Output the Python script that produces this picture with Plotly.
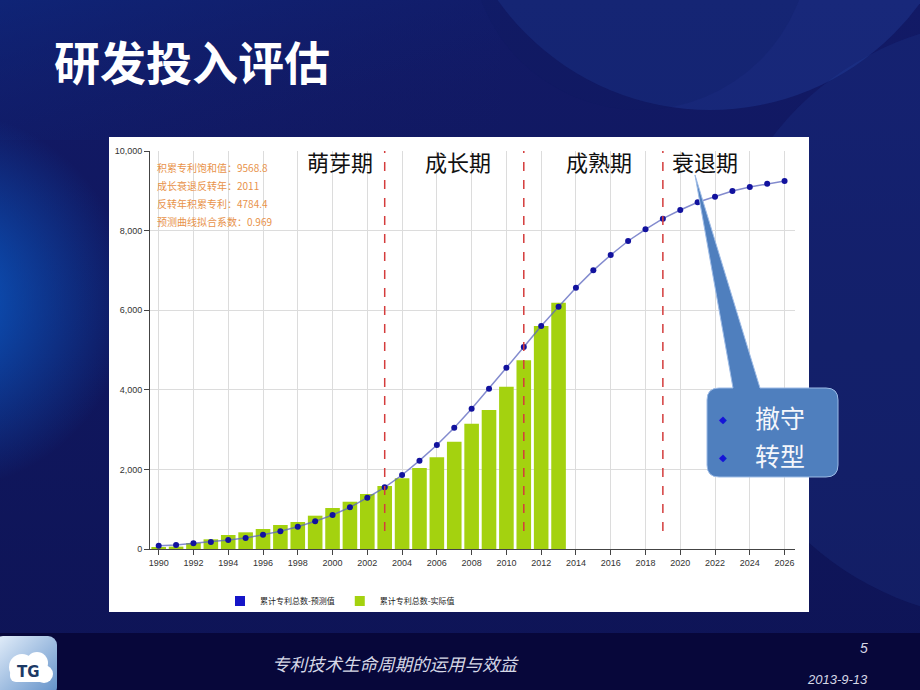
import base64
import plotly.graph_objects as go

W, H = 920, 690

# 累计专利总数 - 预测值 (1990-2026)
forecast_years = list(range(1990, 2027))
forecast_vals = [80, 100, 143, 176, 226, 276, 360, 444, 561, 695, 854, 1047,
                 1290, 1550, 1859, 2219, 2613, 3048, 3525, 4028, 4555, 5075,
                 5603, 6088, 6565, 7001, 7387, 7739, 8032, 8299, 8518, 8711,
                 8852, 8995, 9095, 9178, 9246]

# 累计专利总数 - 实际值 (1990-2013)
actual_years = list(range(1990, 2014))
actual_vals = [40, 60, 150, 243, 352, 419, 502, 603, 678, 837, 1030, 1188,
               1382, 1583, 1776, 2035, 2304, 2696, 3148, 3492, 4078, 4741,
               5603, 6188]

phase_bounds = [2003, 2011, 2019]
phase_names = ["萌芽期", "成长期", "成熟期", "衰退期"]
phase_label_x = [2000.4, 2007.2, 2015.3, 2021.4]

stats_lines = ["积累专利饱和值：9568.8", "成长衰退反转年：2011",
               "反转年积累专利：4784.4", "预测曲线拟合系数：0.969"]

x_ticks = list(range(1990, 2027, 2))
callout_items = ["撤守", "转型"]

CJK = "Noto Sans CJK SC"


def px(x):
    return x / W


def py(y):
    return 1 - y / H


# slide background drawn as an svg picture
bg_svg = """<svg xmlns="http://www.w3.org/2000/svg" width="920" height="690">
<defs>
<linearGradient id="g" x1="0" y1="0" x2="0" y2="1">
<stop offset="0" stop-color="#121a66"/><stop offset="1" stop-color="#0e1456"/></linearGradient>
<radialGradient id="l" gradientUnits="userSpaceOnUse" cx="-60" cy="300" r="190">
<stop offset="0" stop-color="#0a5cc8" stop-opacity="1"/>
<stop offset="1" stop-color="#0a5cc8" stop-opacity="0"/></radialGradient>
<linearGradient id="t" x1="0" y1="0" x2="1" y2="1">
<stop offset="0" stop-color="#0c2e86"/><stop offset="1" stop-color="#121a66" stop-opacity="0"/></linearGradient>
<linearGradient id="lg" x1="0" y1="0" x2="1" y2="1">
<stop offset="0" stop-color="#e6f0fb"/><stop offset="1" stop-color="#5f8fc8"/></linearGradient>
</defs>
<rect width="920" height="690" fill="url(#g)"/>
<rect width="500" height="140" fill="url(#t)" opacity="0.5"/>
<rect width="920" height="690" fill="url(#l)"/>
<circle cx="710" cy="-150" r="260" fill="#2c5cc4" fill-opacity="0.22"/>
<circle cx="1010" cy="320" r="300" fill="#2c5cc4" fill-opacity="0.13"/>
<circle cx="640" cy="-60" r="170" fill="#0e1a60" fill-opacity="0.22"/>
<rect y="633" width="920" height="57" fill="#07073a"/>
<rect x="-6" y="636" width="63" height="60" rx="9" fill="url(#lg)"/>
<circle cx="22" cy="667" r="13" fill="#ffffff"/>
<circle cx="37" cy="663" r="11" fill="#ffffff"/>
<circle cx="44" cy="674" r="9" fill="#ffffff"/>
<rect x="10" y="668" width="40" height="14" rx="6" fill="#ffffff"/>
</svg>"""
bg_src = "data:image/svg+xml;base64," + base64.b64encode(bg_svg.encode()).decode()

fig = go.Figure()

fig.add_trace(go.Bar(
    x=actual_years, y=actual_vals, width=0.84,
    marker=dict(color="#A4D20F", line=dict(width=0)),
    name="累计专利总数-实际值", showlegend=False,
))
fig.add_trace(go.Scatter(
    x=forecast_years, y=forecast_vals, mode="lines+markers",
    line=dict(color="rgba(90,100,190,0.75)", width=1.5),
    marker=dict(color="#12129e", size=6),
    name="累计专利总数-预测值", showlegend=False,
))
# legend entries (checkbox style squares)
fig.add_trace(go.Scatter(x=[None], y=[None], mode="markers", name="累计专利总数-预测值",
                         marker=dict(symbol="square", size=10, color="#1515c8")))
fig.add_trace(go.Scatter(x=[None], y=[None], mode="markers", name="累计专利总数-实际值",
                         marker=dict(symbol="square", size=10, color="#A4D20F")))

shapes = [
    # white chart panel
    dict(type="rect", xref="paper", yref="paper", x0=px(109), x1=px(809),
         y0=py(612), y1=py(137), fillcolor="white", line=dict(width=0), layer="below"),
]
for b in phase_bounds:
    shapes.append(dict(type="line", xref="x", yref="y", x0=b, x1=b, y0=450, y1=10000,
                       line=dict(color="#d43c3c", width=1.5, dash="dash")))

# callout box with pointer
r = 12
x0c, x1c, y0c, y1c = 707, 838, 388, 477
pts = [
    ("M", x0c + r, y0c), ("L", 733, y0c), ("L", 695, 175), ("L", 760, y0c),
    ("L", x1c - r, y0c), ("Q", x1c, y0c, x1c, y0c + r), ("L", x1c, y1c - r),
    ("Q", x1c, y1c, x1c - r, y1c), ("L", x0c + r, y1c), ("Q", x0c, y1c, x0c, y1c - r),
    ("L", x0c, y0c + r), ("Q", x0c, y0c, x0c + r, y0c),
]
path = ""
for p in pts:
    cmd, coords = p[0], p[1:]
    pairs = [f"{px(coords[i]):.5f},{py(coords[i + 1]):.5f}" for i in range(0, len(coords), 2)]
    path += cmd + " ".join(pairs) + " "
path += "Z"
shapes.append(dict(type="path", xref="paper", yref="paper", path=path,
                   fillcolor="#4F7FBE", line=dict(color="#9dbbe6", width=1)))


def note(x, y, text, size, color, family=CJK, xanchor="center"):
    return dict(x=px(x), y=py(y), xref="paper", yref="paper", text=text, showarrow=False,
                xanchor=xanchor, yanchor="middle",
                font=dict(family=family, size=size, color=color))


annotations = []
for name, xp in zip(phase_names, phase_label_x):
    annotations.append(dict(x=xp, xref="x", y=py(161), yref="paper", text=name,
                            showarrow=False, xanchor="center", yanchor="middle",
                            font=dict(family=CJK, size=22, color="#111")))
for i, line in enumerate(stats_lines):
    annotations.append(note(155, 167 + i * 18.3, line, 10, "#E8924A", xanchor="left"))
for i, item in enumerate(callout_items):
    yy = 419 + i * 38
    annotations.append(note(723, yy, "◆", 10, "#1414d8", family="DejaVu Sans"))
    annotations.append(note(753, yy - 2, item, 25, "#f4f6fb", xanchor="left"))

# slide title and footer
annotations += [
    note(52, 60, "<b>研发投入评估</b>", 46, "white", xanchor="left"),
    note(395, 663, "<i>专利技术生命周期的运用与效益</i>", 17.5, "#d6d8e6"),
    note(870, 648, "<i>5</i>", 14, "#d6d8e6", family="Liberation Sans", xanchor="right"),
    note(870, 679, "<i>2013-9-13</i>", 13, "#d6d8e6", family="Liberation Sans", xanchor="right"),
    note(28, 672, "<b>TG</b>", 15, "#1c3a66", family="DejaVu Sans"),
]

fig.update_layout(
    width=W, height=H,
    margin=dict(l=0, r=0, t=0, b=0),
    paper_bgcolor="#101860",
    plot_bgcolor="rgba(0,0,0,0)",
    template="none",
    images=[dict(source=bg_src, xref="paper", yref="paper", x=0, y=1, sizex=1, sizey=1,
                 xanchor="left", yanchor="top", sizing="stretch", layer="below")],
    shapes=shapes,
    annotations=annotations,
    bargap=0.1,
    showlegend=True,
    legend=dict(orientation="h", x=px(220), y=py(601), xanchor="left", yanchor="middle",
                font=dict(family=CJK, size=8, color="#222"), bgcolor="rgba(0,0,0,0)",
                itemwidth=30),
    xaxis=dict(domain=[px(150), px(795)], range=[1989.5, 2026.6], tickvals=x_ticks,
               showgrid=True, gridcolor="#dcdcdc", gridwidth=1, zeroline=False,
               showline=True, linecolor="#444", linewidth=1, ticks="outside",
               ticklen=5, tickcolor="#444", automargin=False,
               tickfont=dict(family="Liberation Sans", size=9, color="#333")),
    yaxis=dict(domain=[py(549), py(151)], range=[0, 10000], dtick=2000, tickformat=",",
               showgrid=True, gridcolor="#dcdcdc", gridwidth=1, zeroline=False,
               showline=True, linecolor="#444", linewidth=1, ticks="outside",
               ticklen=5, tickcolor="#444", automargin=False,
               tickfont=dict(family="Liberation Sans", size=9, color="#333")),
)

# the page body has a default 8px margin; drop it so the slide fills the window
fig.write_html("out.html", config={"displayModeBar": False},
               post_script="document.body.style.margin='0';")
